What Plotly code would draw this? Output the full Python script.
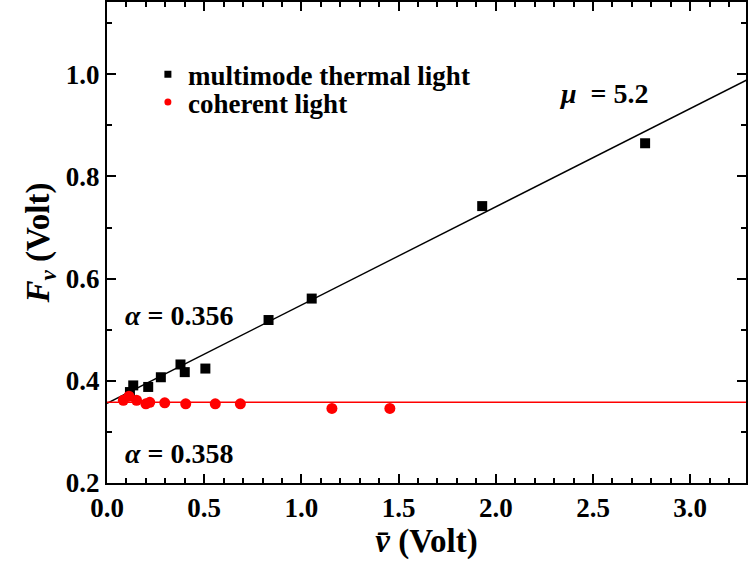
import plotly.graph_objects as go

# Data
thermal_x = [0.118, 0.135, 0.212, 0.277, 0.378, 0.400, 0.506, 0.831, 1.053, 1.930, 2.768]
thermal_y = [0.378, 0.391, 0.388, 0.407, 0.432, 0.417, 0.424, 0.519, 0.561, 0.742, 0.865]

coherent_x = [0.084, 0.113, 0.152, 0.200, 0.220, 0.297, 0.405, 0.557, 0.686, 1.157, 1.455]
coherent_y = [0.362, 0.370, 0.362, 0.355, 0.358, 0.357, 0.355, 0.355, 0.355, 0.346, 0.346]

# Fit parameters
alpha_thermal = 0.356
mu = 5.2
alpha_coherent = 0.358
fit_x = [0.0, 3.4]

x_range = [0, 3.287]
y_range = [0.2, 1.1415]
x_ticks = [0.0, 0.5, 1.0, 1.5, 2.0, 2.5, 3.0]
y_ticks = [0.2, 0.4, 0.6, 0.8, 1.0]

FONT = "Liberation Serif"

fig = go.Figure()

# fit lines
fig.add_trace(go.Scatter(x=fit_x, y=[alpha_thermal + v / mu for v in fit_x], mode="lines",
                         line=dict(color="black", width=1.4), showlegend=False, hoverinfo="skip"))
fig.add_trace(go.Scatter(x=fit_x, y=[alpha_coherent for v in fit_x], mode="lines",
                         line=dict(color="#ff0000", width=1.4), showlegend=False, hoverinfo="skip"))

# data
fig.add_trace(go.Scatter(x=thermal_x, y=thermal_y, mode="markers",
                         marker=dict(symbol="square", size=10, color="black"),
                         showlegend=False))
fig.add_trace(go.Scatter(x=coherent_x, y=coherent_y, mode="markers",
                         marker=dict(symbol="circle", size=11, color="#ff0000"),
                         showlegend=False))

# legend entries
fig.add_trace(go.Scatter(x=[None], y=[None], mode="markers", name="multimode thermal light",
                         marker=dict(symbol="square", size=7, color="black"), legend="legend"))
fig.add_trace(go.Scatter(x=[None], y=[None], mode="markers", name="coherent light",
                         marker=dict(symbol="circle", size=7, color="#ff0000"), legend="legend2"))

legend_font = dict(family=FONT, size=27, color="black", weight="bold")
fig.update_layout(
    legend=dict(x=0.064, y=0.849, xanchor="left", yanchor="middle", font=legend_font,
                bgcolor="rgba(0,0,0,0)"),
    legend2=dict(x=0.064, y=0.791, xanchor="left", yanchor="middle", font=legend_font,
                 bgcolor="rgba(0,0,0,0)"),
)

ann_font = dict(family=FONT, size=28, color="black")
fig.add_annotation(x=2.554, y=0.962, xref="x", yref="y", text="<b><i>μ</i>  = 5.2</b>",
                   showarrow=False, font=ann_font)
fig.add_annotation(x=0.369, y=0.5275, xref="x", yref="y", text="<b><i>α</i> = 0.356</b>",
                   showarrow=False, font=ann_font)
fig.add_annotation(x=0.369, y=0.258, xref="x", yref="y", text="<b><i>α</i> = 0.358</b>",
                   showarrow=False, font=ann_font)

tick_font = dict(family=FONT, size=27, color="black", weight="bold")
common = dict(ticks="inside", ticklen=9, tickwidth=2, linewidth=2, linecolor="black",
              mirror="ticks", showgrid=False, zeroline=False, tickcolor="black",
              tickfont=tick_font)

fig.update_xaxes(range=x_range, tickvals=x_ticks, ticktext=[f"{v:.1f}" for v in x_ticks],
                 minor=dict(dtick=0.1, tick0=0, ticks="inside", ticklen=5, tickwidth=1.5,
                            tickcolor="black"),
                 title=dict(text="<b><i>v̄</i> (Volt)</b>",
                            font=dict(family=FONT, size=33, color="black"), standoff=4),
                 **common)
fig.update_yaxes(range=y_range, tickvals=y_ticks, ticktext=[f"{v:.1f}" for v in y_ticks],
                 minor=dict(dtick=0.1, tick0=0.2, ticks="inside", ticklen=5, tickwidth=1.5,
                            tickcolor="black"),
                 title=dict(text="<b><i>F</i><sub><i>v</i></sub> (Volt)</b>",
                            font=dict(family=FONT, size=33, color="black"), standoff=6),
                 **common)

fig.update_layout(width=748, height=571, margin=dict(l=107, r=0, t=0, b=88),
                  plot_bgcolor="white", paper_bgcolor="white")

fig.write_html("out.html")
